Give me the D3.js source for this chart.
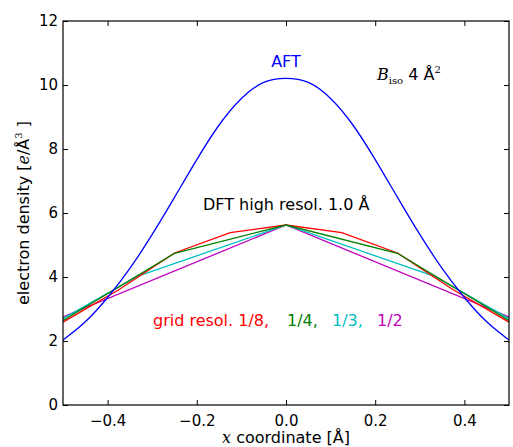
<!DOCTYPE html>
<html>

<head>
    <title>Electron density</title>
    <script src="https://cdn.jsdelivr.net/npm/d3@7"></script>
    <style>
        body { margin: 0; background: white; }
        text { font-family: "DejaVu Sans", sans-serif; }
        .math { font-family: "DejaVu Serif", "Liberation Serif", serif; }
    </style>
</head>

<body>
    <svg width="513" height="447" id="mainsvg"></svg>
    <script>
        // data
        const aftX = [-0.5, -0.45, -0.4, -0.35, -0.3, -0.25, -0.2, -0.15, -0.1, -0.05, 0,
                      0.05, 0.1, 0.15, 0.2, 0.25, 0.3, 0.35, 0.4, 0.45, 0.5];
        const aftY = [2.03, 2.60, 3.36, 4.27, 5.33, 6.49, 7.67, 8.75, 9.58, 10.08, 10.21,
                      10.08, 9.58, 8.75, 7.67, 6.49, 5.33, 4.27, 3.36, 2.60, 2.03];

        const grid8X = [-0.5, -0.375, -0.25, -0.125, 0, 0.125, 0.25, 0.375, 0.5];
        const grid8Y = [2.59, 3.6, 4.75, 5.39, 5.625, 5.39, 4.75, 3.6, 2.59];
        const grid4X = [-0.5, -0.25, 0, 0.25, 0.5];
        const grid4Y = [2.64, 4.74, 5.625, 4.74, 2.64];
        const grid3X = [-0.5, -1 / 3, 0, 1 / 3, 0.5];
        const grid3Y = [2.70, 4.02, 5.625, 4.02, 2.70];
        const grid2X = [-0.5, 0, 0.5];
        const grid2Y = [2.75, 5.625, 2.75];

        const xTicks = [-0.4, -0.2, 0, 0.2, 0.4];
        const yTicks = [0, 2, 4, 6, 8, 10, 12];

        const svg = d3.select('svg');
        const margin = { left: 63, top: 21, right: 4, bottom: 42 };
        const width = +svg.attr('width') - margin.left - margin.right;
        const height = +svg.attr('height') - margin.top - margin.bottom;

        const x = d3.scaleLinear().domain([-0.5, 0.5]).range([0, width]);
        const y = d3.scaleLinear().domain([0, 12]).range([height, 0]);

        const g = svg.append('g').attr('transform', `translate(${margin.left},${margin.top})`);

        // clip curves to the frame
        svg.append('clipPath').attr('id', 'clip')
            .append('rect').attr('width', width).attr('height', height);

        const line = d3.line().x(d => x(d[0])).y(d => y(d[1]));
        const series = [
            { xs: grid2X, ys: grid2Y, color: '#bf00bf', curve: d3.curveLinear },
            { xs: grid3X, ys: grid3Y, color: '#00bfbf', curve: d3.curveLinear },
            { xs: grid8X, ys: grid8Y, color: '#ff0000', curve: d3.curveLinear },
            { xs: grid4X, ys: grid4Y, color: '#008000', curve: d3.curveLinear },
            { xs: aftX, ys: aftY, color: '#0000ff', curve: d3.curveNatural }
        ];

        g.append('g').attr('clip-path', 'url(#clip)')
            .selectAll('path').data(series).join('path')
            .attr('fill', 'none')
            .attr('stroke', d => d.color)
            .attr('stroke-width', 1.3)
            .attr('d', d => line.curve(d.curve)(d.xs.map((v, i) => [v, d.ys[i]])));

        // axes, ticks pointing inwards on all four sides
        const fmtX = d3.format('.1f');
        const styleAxis = sel => {
            sel.select('.domain').remove();
            sel.selectAll('line').attr('stroke', 'black').attr('stroke-width', 1);
            sel.selectAll('text').attr('fill', 'black').style('font-size', '15px');
        };
        g.append('g').attr('transform', `translate(0,${height})`)
            .call(d3.axisBottom(x).tickValues(xTicks).tickFormat(fmtX).tickSizeInner(-5).tickSizeOuter(0).tickPadding(10))
            .call(styleAxis);
        g.append('g')
            .call(d3.axisTop(x).tickValues(xTicks).tickFormat('').tickSizeInner(-5).tickSizeOuter(0))
            .call(styleAxis);
        g.append('g')
            .call(d3.axisLeft(y).tickValues(yTicks).tickFormat(d3.format('d')).tickSizeInner(-5).tickSizeOuter(0).tickPadding(5))
            .call(styleAxis);
        g.append('g').attr('transform', `translate(${width},0)`)
            .call(d3.axisRight(y).tickValues(yTicks).tickFormat('').tickSizeInner(-5).tickSizeOuter(0))
            .call(styleAxis);

        g.append('rect')
            .attr('width', width).attr('height', height)
            .attr('fill', 'none').attr('stroke', 'black').attr('stroke-width', 1.2);

        // axis labels
        const xl = svg.append('text')
            .attr('x', margin.left + x(0)).attr('y', 443)
            .attr('text-anchor', 'middle').style('font-size', '16px');
        xl.append('tspan').attr('class', 'math').style('font-style', 'italic').text('x');
        xl.append('tspan').text(' coordinate [Å]');

        const yl = svg.append('text')
            .attr('transform', `translate(29,${margin.top + height / 2}) rotate(-90)`)
            .attr('text-anchor', 'middle').style('font-size', '16px');
        yl.append('tspan').text('electron density [');
        yl.append('tspan').attr('class', 'math').style('font-style', 'italic').text('e');
        yl.append('tspan').text('/Å');
        yl.append('tspan').attr('class', 'math').attr('dy', -7).style('font-size', '10px').text('3');
        yl.append('tspan').attr('dy', 7).text(' ]');

        // annotations
        svg.append('text').attr('x', margin.left + x(0)).attr('y', 67)
            .attr('text-anchor', 'middle').attr('fill', '#0000ff').style('font-size', '16px').text('AFT');

        const b = svg.append('text').attr('x', 377).attr('y', 80).style('font-size', '16px');
        b.append('tspan').attr('class', 'math').style('font-style', 'italic').text('B');
        b.append('tspan').attr('class', 'math').attr('dy', 4).style('font-size', '10px').text('iso');
        b.append('tspan').attr('dy', -4).text(' 4 Å');
        b.append('tspan').attr('class', 'math').attr('dy', -7).style('font-size', '10px').text('2');

        svg.append('text').attr('x', 203).attr('y', 210)
            .style('font-size', '16px').text('DFT high resol. 1.0 Å');

        const labels = [
            { text: 'grid resol. 1/8,', x: 153, color: '#ff0000' },
            { text: '1/4,', x: 287, color: '#008000' },
            { text: '1/3,', x: 332, color: '#00bfbf' },
            { text: '1/2', x: 377, color: '#bf00bf' }
        ];
        svg.selectAll('.gridLabel').data(labels).join('text')
            .attr('class', 'gridLabel')
            .attr('x', d => d.x).attr('y', 326)
            .attr('fill', d => d.color)
            .style('font-size', '16px')
            .text(d => d.text);
    </script>
</body>

</html>
